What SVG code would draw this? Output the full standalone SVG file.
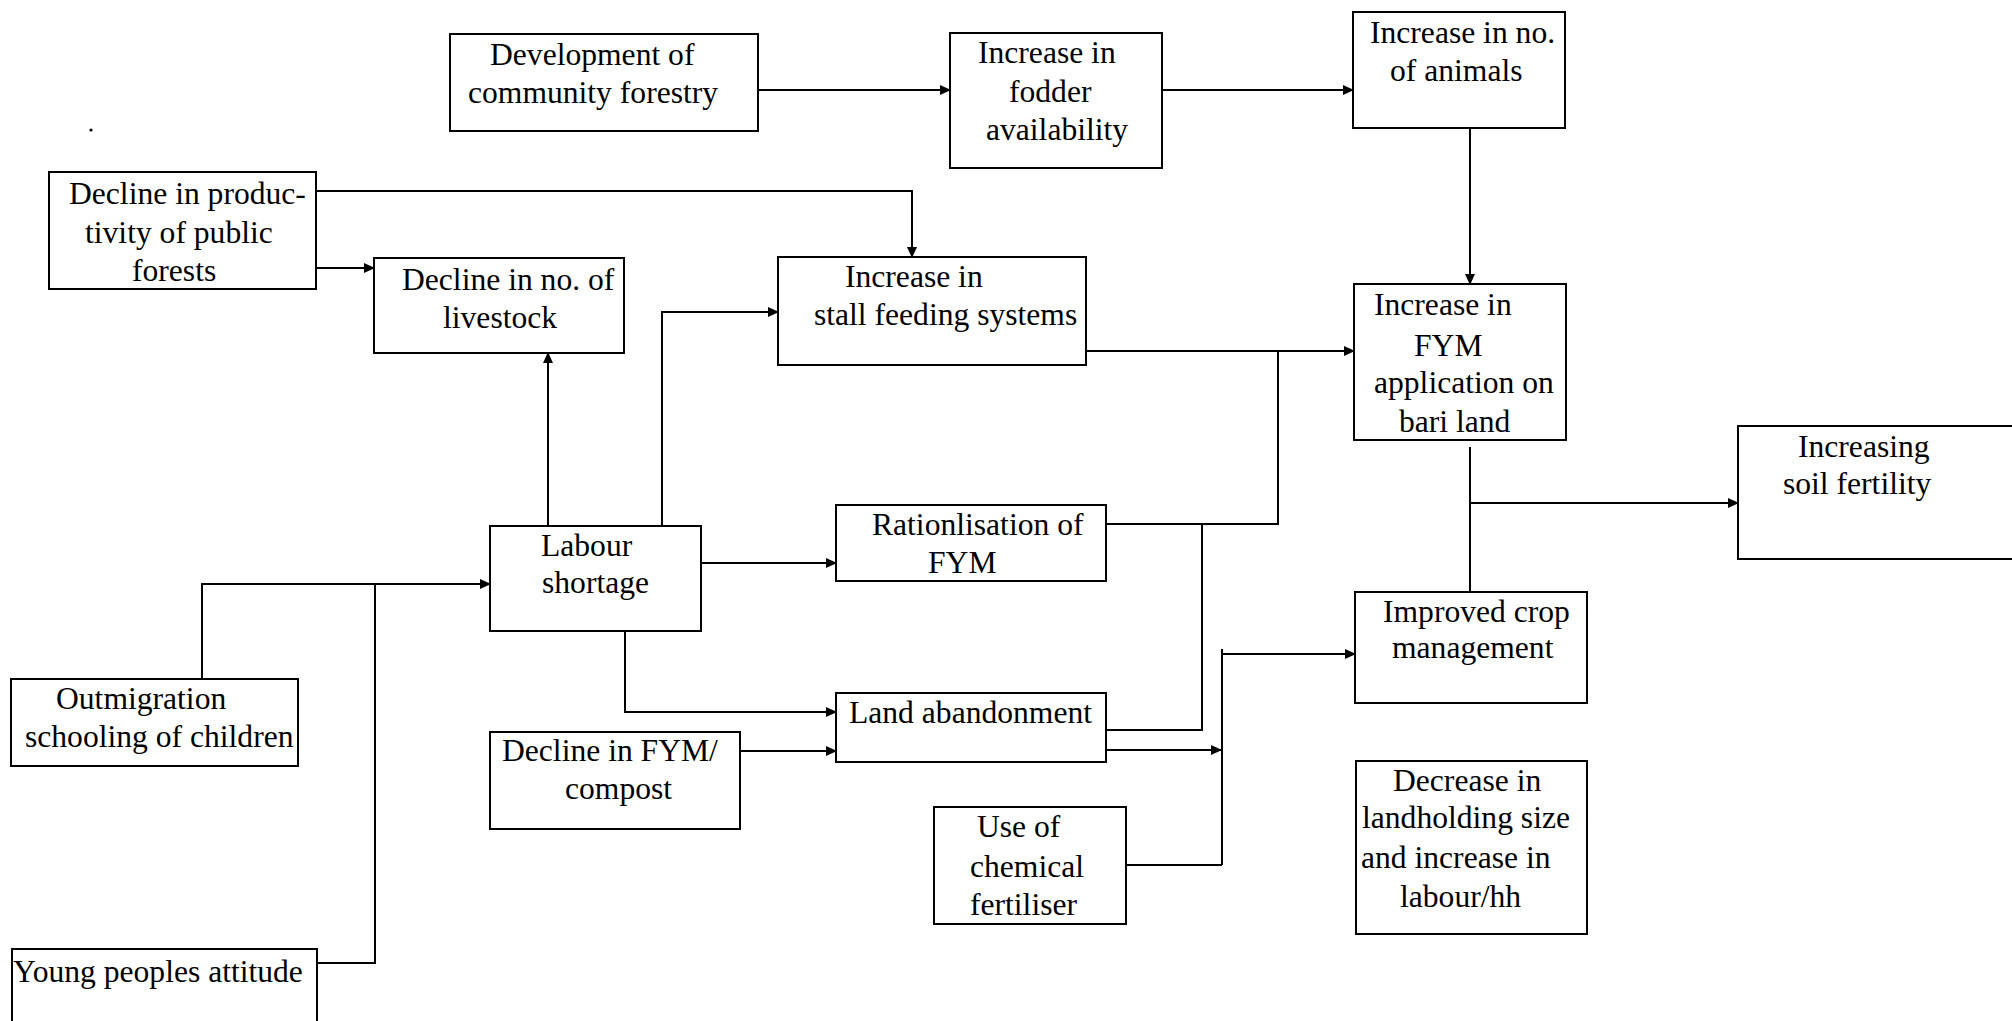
<svg xmlns="http://www.w3.org/2000/svg" width="2012" height="1021" viewBox="0 0 2012 1021">
<style>
.box{fill:#fff;stroke:#000;stroke-width:2}
.c{fill:none;stroke:#000;stroke-width:2}
.t{font-family:'Liberation Serif','Times New Roman',Times,'DejaVu Serif',serif;font-size:31.6px;fill:#000}
</style>
<defs>
<marker id="ah" markerUnits="userSpaceOnUse" markerWidth="11" markerHeight="10" refX="10" refY="5" orient="auto">
<path d="M0,0 L11,5 L0,10 z" fill="#000"/>
</marker>
</defs>
<rect width="2012" height="1021" fill="#fff"/>
<circle cx="91" cy="130" r="1.6" fill="#000"/>
<g id="connectors">
<path class="c" d="M758,90 H950" marker-end="url(#ah)"/>
<path class="c" d="M1162,90 H1353" marker-end="url(#ah)"/>
<path class="c" d="M1470,128 V284" marker-end="url(#ah)"/>
<path class="c" d="M316,191 H912 V257" marker-end="url(#ah)"/>
<path class="c" d="M316,268 H374" marker-end="url(#ah)"/>
<path class="c" d="M548,526 V353" marker-end="url(#ah)"/>
<path class="c" d="M662,526 V312 H778" marker-end="url(#ah)"/>
<path class="c" d="M1086,351 H1354" marker-end="url(#ah)"/>
<path class="c" d="M1106,524 H1278 V351"/>
<path class="c" d="M1106,730 H1202 V524"/>
<path class="c" d="M701,563 H836" marker-end="url(#ah)"/>
<path class="c" d="M625,631 V712 H836" marker-end="url(#ah)"/>
<path class="c" d="M740,751 H836" marker-end="url(#ah)"/>
<path class="c" d="M1106,750 H1221" marker-end="url(#ah)"/>
<path class="c" d="M1222,649 V865"/>
<path class="c" d="M1222,654 H1355" marker-end="url(#ah)"/>
<path class="c" d="M1126,865 H1222"/>
<path class="c" d="M1470,447 V597"/>
<path class="c" d="M1470,503 H1738" marker-end="url(#ah)"/>
<path class="c" d="M202,679 V584 H490" marker-end="url(#ah)"/>
<path class="c" d="M318,963 H375 V584"/>
</g>
<g class="t" font-family="Liberation Serif, serif">
<g id="n-dev"><rect class="box" x="450" y="34" width="308" height="97"/>
<text x="490" y="65">Development of</text><text x="468" y="103">community forestry</text></g>
<g id="n-fodder"><rect class="box" x="950" y="33" width="212" height="135"/>
<text x="978" y="63">Increase in</text><text x="1009" y="102">fodder</text><text x="986" y="140">availability</text></g>
<g id="n-animals"><rect class="box" x="1353" y="12" width="212" height="116"/>
<text x="1370" y="43">Increase in no.</text><text x="1390" y="81">of animals</text></g>
<g id="n-prod"><rect class="box" x="49" y="172" width="267" height="117"/>
<text x="69" y="204">Decline in produc-</text><text x="85" y="243">tivity of public</text><text x="132" y="281">forests</text></g>
<g id="n-livestock"><rect class="box" x="374" y="258" width="250" height="95"/>
<text x="402" y="290">Decline in no. of</text><text x="443" y="328">livestock</text></g>
<g id="n-stall"><rect class="box" x="778" y="257" width="308" height="108"/>
<text x="845" y="287">Increase in</text><text x="814" y="325">stall feeding systems</text></g>
<g id="n-fym"><rect class="box" x="1354" y="284" width="212" height="156"/>
<text x="1374" y="315">Increase in</text><text x="1414" y="356">FYM</text><text x="1374" y="393">application on</text><text x="1399" y="432">bari land</text></g>
<g id="n-soil"><rect class="box" x="1738" y="426" width="290" height="133"/>
<text x="1798" y="457">Increasing</text><text x="1783" y="494">soil fertility</text></g>
<g id="n-labour"><rect class="box" x="490" y="526" width="211" height="105"/>
<text x="541" y="556">Labour</text><text x="542" y="593">shortage</text></g>
<g id="n-ration"><rect class="box" x="836" y="505" width="270" height="76"/>
<text x="872" y="535">Rationlisation of</text><text x="928" y="573">FYM</text></g>
<g id="n-crop"><rect class="box" x="1355" y="592" width="232" height="111"/>
<text x="1383" y="622">Improved crop</text><text x="1392" y="658">management</text></g>
<g id="n-outmig"><rect class="box" x="11" y="679" width="287" height="87"/>
<text x="56" y="709">Outmigration</text><text x="25" y="747">schooling of children</text></g>
<g id="n-land"><rect class="box" x="836" y="693" width="270" height="69"/>
<text x="849" y="723">Land abandonment</text></g>
<g id="n-declfym"><rect class="box" x="490" y="732" width="250" height="97"/>
<text x="502" y="761">Decline in FYM/</text><text x="565" y="799">compost</text></g>
<g id="n-chem"><rect class="box" x="934" y="807" width="192" height="117"/>
<text x="977" y="837">Use of</text><text x="970" y="877">chemical</text><text x="970" y="915">fertiliser</text></g>
<g id="n-decrease"><rect class="box" x="1356" y="761" width="231" height="173"/>
<text x="1393" y="791">Decrease in</text><text x="1362" y="828">landholding size</text><text x="1361" y="868">and increase in</text><text x="1400" y="907">labour/hh</text></g>
<g id="n-young"><rect class="box" x="12" y="949" width="305" height="90"/>
<text x="13" y="982">Young peoples attitude</text></g>
</g>
</svg>
